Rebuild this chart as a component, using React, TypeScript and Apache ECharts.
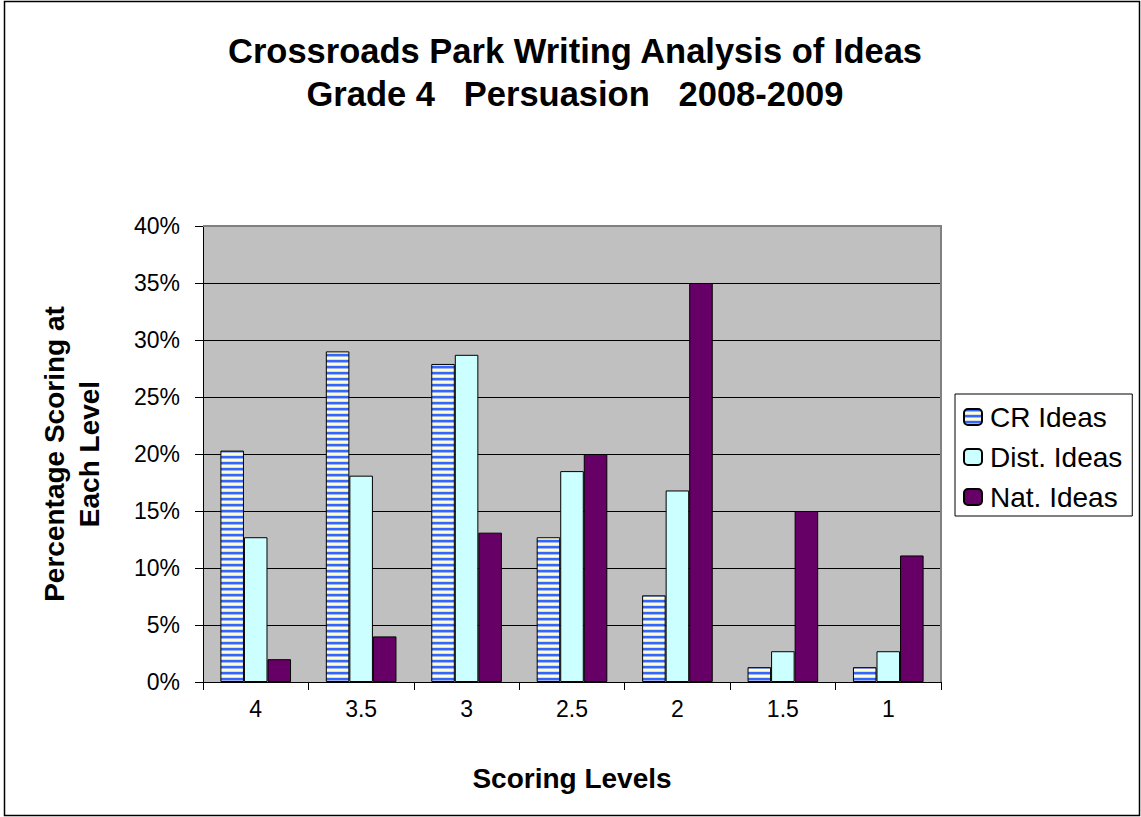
import React, { useEffect, useRef } from "react";
import * as echarts from "echarts";

const categories = ["4", "3.5", "3", "2.5", "2", "1.5", "1"];
const crIdeas = [0.203, 0.29, 0.279, 0.127, 0.076, 0.013, 0.013];
const distIdeas = [0.127, 0.181, 0.287, 0.185, 0.168, 0.027, 0.027];
const natIdeas = [0.02, 0.04, 0.131, 0.2, 0.35, 0.15, 0.111];
const seriesNames = ["CR Ideas", "Dist. Ideas", "Nat. Ideas"];
const titleText = "Crossroads Park Writing Analysis of Ideas\nGrade 4   Persuasion   2008-2009";
const xTitle = "Scoring Levels";
const yTitle = "Percentage Scoring at\nEach Level";

const FONT = "'Liberation Sans', Arial, Helvetica, sans-serif";

function makeStripe(): string {
  const c = document.createElement("canvas");
  c.width = 6;
  c.height = 6;
  const ctx = c.getContext("2d")!;
  const rows = ["#3366FF", "#3366FF", "#9FB2F5", "#FFFFCC", "#FFFFCC", "#D6DCEA"];
  rows.forEach((col, i) => {
    ctx.fillStyle = col;
    ctx.fillRect(0, i, 6, 1);
  });
  return c.toDataURL();
}

export default function App() {
  const ref = useRef<HTMLDivElement>(null);
  useEffect(() => {
    if (!ref.current) return;
    const chart = echarts.init(ref.current, null, { renderer: "svg" });
    const stripe = {
      image: makeStripe(),
      repeat: "repeat",
      imageWidth: 6,
      imageHeight: 6,
    } as any;
    const border = { borderColor: "#000", borderWidth: 1 };
    const left = 203, top = 226, right = 941, bottom = 682;
    chart.setOption({
      animation: false,
      backgroundColor: "#fff",
      textStyle: { fontFamily: FONT, color: "#000" },
      title: {
        text: titleText,
        left: 575,
        top: 29,
        padding: 0,
        textAlign: "center",
        textStyle: {
          fontFamily: FONT,
          fontSize: 34.5,
          fontWeight: "bold",
          color: "#000",
          lineHeight: 43,
        },
      },
      legend: {
        orient: "vertical",
        left: 955,
        top: 394,
        data: seriesNames,
        backgroundColor: "#fff",
        borderColor: "#000",
        borderWidth: 1,
        padding: [9, 10, 5, 8],
        itemWidth: 18,
        itemHeight: 16,
        itemGap: 12,
        textStyle: { fontFamily: FONT, fontSize: 28, color: "#000", padding: [0, 0, 0, 3] },
      },
      grid: {
        left,
        top,
        width: right - left,
        height: bottom - top,
        show: true,
        backgroundColor: "#C0C0C0",
        borderWidth: 0,
      },
      xAxis: {
        type: "category",
        data: categories,
        name: xTitle,
        nameLocation: "middle",
        nameGap: 82,
        nameTextStyle: { fontFamily: FONT, fontSize: 28, fontWeight: "bold", color: "#000" },
        axisLine: { lineStyle: { color: "#000", width: 1 } },
        axisTick: { show: true, length: 8, alignWithLabel: false, lineStyle: { color: "#000" } },
        axisLabel: { fontFamily: FONT, fontSize: 23, color: "#000", margin: 15 },
        splitLine: { show: false },
      },
      yAxis: {
        type: "value",
        min: 0,
        max: 0.4,
        interval: 0.05,
        name: yTitle,
        nameLocation: "middle",
        nameGap: 96,
        nameRotate: 90,
        nameTextStyle: {
          fontFamily: FONT,
          fontSize: 28,
          fontWeight: "bold",
          color: "#000",
          lineHeight: 35,
          align: "center",
        },
        axisLine: { show: true, lineStyle: { color: "#000", width: 1 } },
        axisTick: { show: true, length: 8, lineStyle: { color: "#000" } },
        axisLabel: {
          fontFamily: FONT,
          fontSize: 23,
          color: "#000",
          margin: 23,
          formatter: (v: number) => Math.round(v * 100) + "%",
        },
        splitLine: { show: true, lineStyle: { color: "#000", width: 1 } },
      },
      series: [
        {
          name: seriesNames[0],
          type: "bar",
          data: crIdeas,
          barGap: "0%",
          barCategoryGap: "33%",
          itemStyle: { color: stripe, ...border },
        },
        {
          name: seriesNames[1],
          type: "bar",
          data: distIdeas,
          barGap: "0%",
          barCategoryGap: "33%",
          itemStyle: { color: "#CCFFFF", ...border },
        },
        {
          name: seriesNames[2],
          type: "bar",
          data: natIdeas,
          barGap: "0%",
          barCategoryGap: "33%",
          itemStyle: { color: "#660066", ...border },
        },
      ],
      graphic: [
        {
          type: "polyline",
          z: 100,
          silent: true,
          shape: { points: [[left, top], [right, top], [right, bottom]] },
          style: { stroke: "#808080", lineWidth: 2, fill: null },
        },
        {
          type: "rect",
          z: 100,
          silent: true,
          shape: { x: 4.5, y: 1.5, width: 1135, height: 814 },
          style: { stroke: "#000", lineWidth: 1.5, fill: null },
        },
      ],
    });
    return () => chart.dispose();
  }, []);
  return (
    <div
      ref={ref}
      style={{ position: "absolute", left: 0, top: 0, width: 1141, height: 817 }}
    />
  );
}
